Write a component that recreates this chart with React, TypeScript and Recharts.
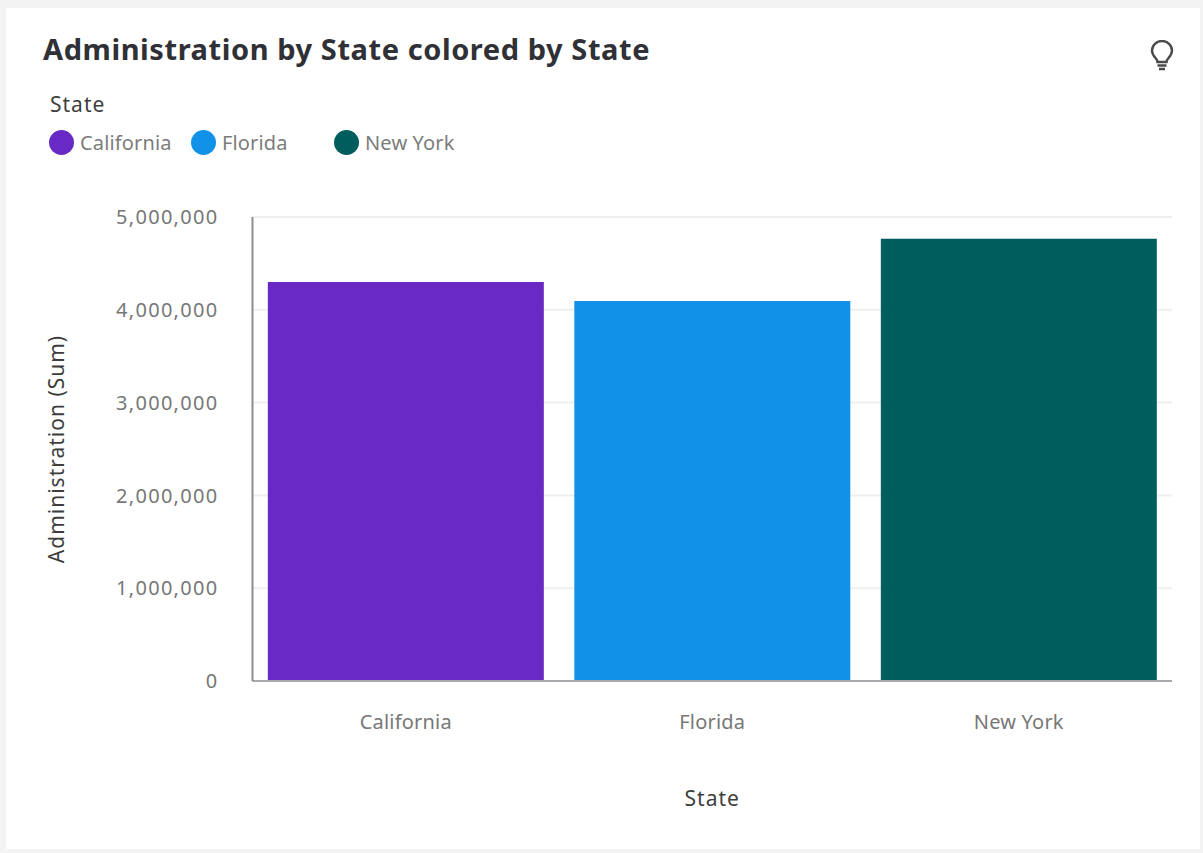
import { Bar, BarChart, CartesianGrid, Cell, Label, XAxis, YAxis } from "recharts";

const states = ["California", "Florida", "New York"];
const administration = [4300000, 4095000, 4765000];
const colors = ["#6929c4", "#1192e8", "#005d5d"];
const yTicks = [0, 1000000, 2000000, 3000000, 4000000, 5000000];
const legendLeft = [49, 191, 334];

const chartData = states.map((state, i) => ({ state, value: administration[i] }));
const font = "'Noto Sans', sans-serif";

export default function App() {
  return (
    <div style={{ position: "absolute", left: 0, top: 0, width: 1203, height: 853, background: "#f3f3f3", overflow: "hidden", fontFamily: font }}>
      <div style={{ position: "absolute", left: 6, top: 8, width: 1194, height: 841, background: "#ffffff" }} />
      <div style={{ position: "absolute", left: 43, top: 28, fontSize: 29, fontWeight: 700, letterSpacing: 0.58, color: "#2f3136", lineHeight: "42px", whiteSpace: "nowrap" }}>
        Administration by State colored by State
      </div>
      <svg style={{ position: "absolute", left: 1148, top: 40 }} width={28} height={32} viewBox="0 0 28 32" fill="none" stroke="#4a4a4a">
        <path d="M9.5 22 C9.5 18.5 4 16.5 4 10.5 A10 9.5 0 0 1 24 10.5 C24 16.5 18.5 18.5 18.5 22 Z" strokeWidth={2.4} />
        <path d="M9.5 25.5 H18.5 M11 29 H17" strokeWidth={2.4} />
      </svg>
      <div style={{ position: "absolute", left: 50, top: 91, fontSize: 21, letterSpacing: 1, color: "#3d3d3d", lineHeight: "26px" }}>State</div>
      {states.map((state, i) => (
        <div key={state} style={{ position: "absolute", left: legendLeft[i], top: 129, height: 26, display: "flex", alignItems: "center", whiteSpace: "nowrap" }}>
          <span style={{ width: 25, height: 25, borderRadius: "50%", background: colors[i], marginRight: 6, flex: "none" }} />
          <span style={{ fontSize: 20, letterSpacing: 0.15, color: "#7c7c7c" }}>{state}</span>
        </div>
      ))}
      <div style={{ position: "absolute", left: 0, top: 0 }}>
        <BarChart
          width={1203}
          height={853}
          data={chartData}
          margin={{ top: 217, right: 31, bottom: 47, left: 24.5 }}
          barCategoryGap="5%"
        >
          <CartesianGrid stroke="#eeeff1" strokeWidth={2} vertical={false} />
          <XAxis
            dataKey="state"
            height={125}
            tickLine={false}
            axisLine={{ stroke: "#a8a8ac", strokeWidth: 2 }}
            tick={{ fill: "#777777", fontSize: 20, letterSpacing: 0.2, fontFamily: font }}
            tickMargin={28}
          >
            <Label value="State" position="insideBottom" offset={0} fill="#3d3d3d" fontSize={21} letterSpacing={1} fontFamily={font} />
          </XAxis>
          <YAxis
            domain={[0, 5000000]}
            ticks={yTicks}
            width={228}
            tickLine={false}
            axisLine={{ stroke: "#8d8d90", strokeWidth: 2 }}
            tick={{ fill: "#777777", fontSize: 20, letterSpacing: 1.3, fontFamily: font }}
            tickMargin={28}
            tickFormatter={(v: number) => v.toLocaleString("en-US")}
          >
            <Label value="Administration (Sum)" angle={-90} position="insideLeft" offset={32} style={{ textAnchor: "middle" }} fill="#3d3d3d" fontSize={21} letterSpacing={1} fontFamily={font} />
          </YAxis>
          <Bar dataKey="value" isAnimationActive={false}>
            {chartData.map((d, i) => (
              <Cell key={d.state} fill={colors[i]} />
            ))}
          </Bar>
        </BarChart>
      </div>
    </div>
  );
}
